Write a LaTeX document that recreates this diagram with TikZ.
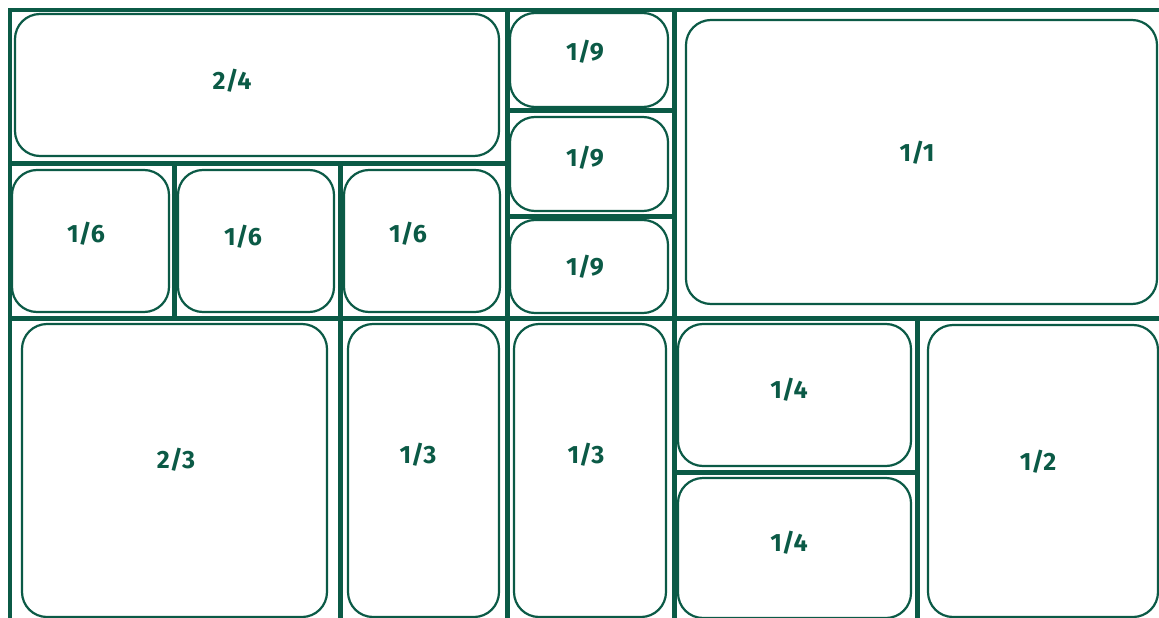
\documentclass[tikz,border=0pt]{standalone}
\usepackage{fontspec}
\setmainfont{Fira Sans}
\definecolor{pangreen}{HTML}{0B5A46}
\begin{document}
\begin{tikzpicture}[x=1pt,y=-1pt,
  pan/.style={draw=pangreen,line width=2.2pt,rounded corners=25pt,minimum width=#1},
  divider/.style={draw=pangreen,line width=5pt},
  framel/.style={draw=pangreen,line width=3.5pt},
  lbl/.style={text=pangreen,font=\bfseries\fontsize{25}{25}\selectfont,inner sep=0pt}]
\useasboundingbox[fill=white] (0,0) rectangle (1159,618);
% pans
\draw[pan] (15,14) rectangle (499,156) coordinate (p24);
\draw[pan] (12,170) rectangle (169,312);
\draw[pan] (178,170) rectangle (334,312);
\draw[pan] (344,170) rectangle (500,312);
\draw[pan] (510,13) rectangle (668,107);
\draw[pan] (510,117) rectangle (668,211);
\draw[pan] (510,220) rectangle (668,313);
\draw[pan] (686,20) rectangle (1157,304);
\draw[pan] (22,324) rectangle (327,617);
\draw[pan] (348,324) rectangle (499,617);
\draw[pan] (514,324) rectangle (666,617);
\draw[pan] (678,324) rectangle (911,466);
\draw[pan] (678,478) rectangle (911,618);
\draw[pan] (928,325) rectangle (1158,617);
% frame
\draw[framel] (10,618) -- (10,10) -- (1159,10);
% dividers
\draw[divider] (507,10) -- (507,618);
\draw[divider] (674,10) -- (674,618);
\draw[divider] (10,163) -- (507,163);
\draw[divider] (174,163) -- (174,318);
\draw[divider] (340,163) -- (340,618);
\draw[divider] (10,318) -- (1159,318);
\draw[divider] (507,110) -- (674,110);
\draw[divider] (507,216) -- (674,216);
\draw[divider] (917,318) -- (917,618);
\draw[divider] (674,472) -- (917,472);
% labels
\node[lbl] (l24) at (232,81) {2/4};
\node[lbl] (l16a) at (86,234) {1/6};
\node[lbl] (l16b) at (243,237) {1/6};
\node[lbl] (l16c) at (408,234) {1/6};
\node[lbl] (l19a) at (585,52) {1/9};
\node[lbl] (l19b) at (585,158) {1/9};
\node[lbl] (l19c) at (585,267) {1/9};
\node[lbl] (l11) at (917,153) {1/1};
\node[lbl] (l23) at (176,460) {2/3};
\node[lbl] (l13a) at (418,455) {1/3};
\node[lbl] (l13b) at (586,455) {1/3};
\node[lbl] (l14a) at (789,390) {1/4};
\node[lbl] (l14b) at (789,543) {1/4};
\node[lbl] (l12) at (1038,462) {1/2};
\end{tikzpicture}
\end{document}
